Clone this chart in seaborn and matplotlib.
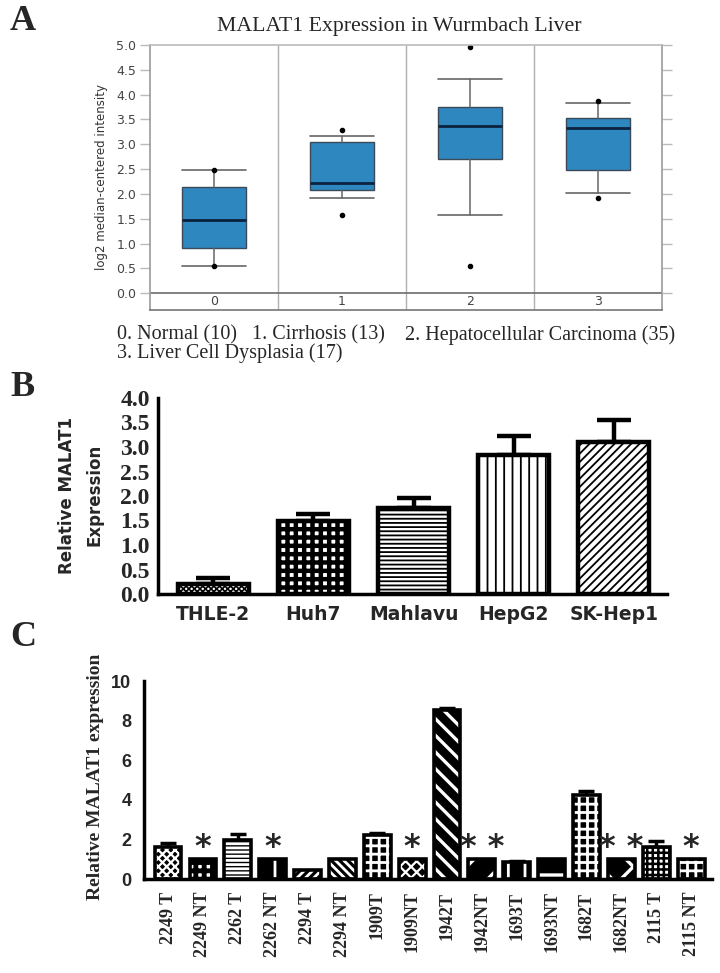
import numpy as np
import pandas as pd
import matplotlib
matplotlib.use("Agg")
import matplotlib.pyplot as plt
import seaborn as sns

# ---------------- data ----------------
# A: Oncomine box summary, MALAT1 in Wurmbach liver
groups_a = ["0", "1", "2", "3"]
whislo_a = [0.54, 1.91, 1.58, 2.02]
q1_a = [0.91, 2.08, 2.70, 2.49]
med_a = [1.47, 2.22, 3.36, 3.32]
q3_a = [2.13, 3.04, 3.75, 3.53]
whishi_a = [2.48, 3.17, 4.31, 3.83]
fliers_a = [[0.54, 2.48], [1.58, 3.28], [0.54, 4.96], [1.91, 3.88]]
caption_a = ["0. Normal (10)", "1. Cirrhosis (13)",
             "2. Hepatocellular Carcinoma (35)", "3. Liver Cell Dysplasia (17)"]

# B: cell lines
cells_b = ["THLE-2", "Huh7", "Mahlavu", "HepG2", "SK-Hep1"]
expr_b = [0.21, 1.48, 1.75, 2.84, 3.10]
err_b = [0.11, 0.15, 0.21, 0.39, 0.46]

# C: patient tissues
samples_c = ["2249 T", "2249 NT", "2262 T", "2262 NT", "2294 T", "2294 NT",
             "1909T", "1909NT", "1942T", "1942NT", "1693T", "1693NT",
             "1682T", "1682NT", "2115 T", "2115 NT"]
expr_c = [1.64, 1.0, 1.98, 1.0, 0.45, 1.0, 2.22, 1.0, 8.55, 1.0, 0.84, 1.0,
          4.24, 1.0, 1.62, 1.0]
err_c = [0.20, 0, 0.30, 0, 0, 0, 0.12, 0, 0.07, 0, 0.05, 0, 0.22, 0, 0.30, 0]
stars_c = ["", "*", "", "*", "", "", "", "*", "", "* *", "", "", "", "* *", "", "*"]

# ---------------- style ----------------
sns.set_style("white")
plt.rcParams["font.family"] = ["DejaVu Sans"]
SERIF = "Liberation Serif"


def hatch_lw(patch, lw):
    # per-patch hatch width where matplotlib supports it
    if hasattr(patch, "set_hatch_linewidth"):
        patch.set_hatch_linewidth(lw)


fig = plt.figure(figsize=(7.2, 9.73), dpi=100)

# ================= panel A =================
ax_a = fig.add_axes([150 / 720, 1 - 310 / 973, 512 / 720, 265 / 973])
stats = []
for i in range(len(groups_a)):
    stats.append(dict(whislo=whislo_a[i], q1=q1_a[i], med=med_a[i], q3=q3_a[i],
                      whishi=whishi_a[i], fliers=fliers_a[i], label=groups_a[i]))
ax_a.bxp(stats, positions=range(len(groups_a)), widths=0.5, capwidths=0.5,
         patch_artist=True, showfliers=True,
         boxprops=dict(facecolor="#2f87bf", edgecolor="#3a4a5a", linewidth=1),
         medianprops=dict(color="#0b2340", linewidth=2),
         whiskerprops=dict(color="#666666", linewidth=1.1),
         capprops=dict(color="#666666", linewidth=1.2),
         flierprops=dict(marker="o", markersize=3, markerfacecolor="black",
                         markeredgecolor="black"))
ax_a.set_xlim(-0.5, 3.5)
ax_a.set_ylim(-0.34, 5.0)
ax_a.set_yticks(np.arange(0, 5.01, 0.5))
ax_a.set_yticklabels([f"{v:.1f}" for v in np.arange(0, 5.01, 0.5)],
                     fontsize=9, color="#444444")
ax_a.set_xticks([])
for i, g in enumerate(groups_a):
    ax_a.text(i, -0.17, g, ha="center", va="center", fontsize=9, color="#444444")
for sep in [0.5, 1.5, 2.5]:
    ax_a.axvline(sep, color="#b0b0b0", linewidth=1, zorder=0)
ax_a.axhline(0, color="#777777", linewidth=1.3, zorder=0)
ax_a.tick_params(axis="y", left=True, right=True, labelright=False,
                 direction="out", length=7, width=1, color="#bbbbbb", pad=3)
for side, col in [("left", "#999999"), ("right", "#999999"),
                  ("top", "#bbbbbb"), ("bottom", "#777777")]:
    ax_a.spines[side].set_color(col)
    ax_a.spines[side].set_linewidth(1.2)
ax_a.set_ylabel("log2 median-centered intensity", fontsize=8.5, color="#333333",
                labelpad=6)

fig.text(0.554, 1 - 27 / 973, "MALAT1 Expression in Wurmbach Liver",
         family=SERIF, fontsize=15.7, ha="center", va="center")
cap_pos = [(117, 335), (252, 335), (405, 335), (117, 353)]
for (px, py), txt in zip(cap_pos, caption_a):
    fig.text(px / 720, 1 - py / 973, txt, family=SERIF, fontsize=14.5,
             ha="left", va="center")

# ================= panel B =================
ax_b = fig.add_axes([158 / 720, 1 - 594 / 973, 509 / 720, 196 / 973])
df_b = pd.DataFrame({"cell": cells_b, "expr": expr_b})
sns.barplot(data=df_b, x="cell", y="expr", order=cells_b, color="white",
            saturation=1, edgecolor="black", linewidth=3.2, width=0.71,
            errorbar=None, ax=ax_b, zorder=3)
hatch_b = ["xxxxxx", "++", "----", "||", "////"]
hlw_b = [1.2, 3.2, 1.3, 1.3, 1.3]
for patch, h, lw in zip(ax_b.patches, hatch_b, hlw_b):
    patch.set_hatch(h)
    hatch_lw(patch, lw)
ax_b.errorbar(np.arange(len(cells_b)), expr_b,
              yerr=[np.zeros(len(err_b)), err_b], fmt="none", ecolor="black",
              elinewidth=3.2, capsize=12, capthick=3.2, zorder=2)
ax_b.set_xlim(-0.55, 4.53)
ax_b.set_ylim(0, 4.0)
ax_b.set_yticks(np.arange(0, 4.01, 0.5))
ax_b.set_yticklabels([f"{v:.1f}" for v in np.arange(0, 4.01, 0.5)],
                     family=SERIF, fontweight="bold", fontsize=17)
ax_b.set_xticks(range(len(cells_b)))
ax_b.set_xticklabels(cells_b, fontweight="bold", fontsize=13.5)
ax_b.tick_params(axis="y", direction="out", length=5, width=2.5, pad=1)
ax_b.tick_params(axis="x", length=0, pad=8)
sns.despine(ax=ax_b)
for side in ["left", "bottom"]:
    ax_b.spines[side].set_linewidth(2.5)
    ax_b.spines[side].set_color("black")
ax_b.set_xlabel("")
ax_b.set_ylabel("")
fig.text(81 / 720, 1 - 495 / 973, "Relative MALAT1\nExpression", rotation=90,
         fontweight="bold", fontsize=12, ha="center", va="center",
         multialignment="center", linespacing=1.7)

# ================= panel C =================
ax_c = fig.add_axes([144 / 720, 1 - 879 / 973, 568 / 720, 198 / 973])
df_c = pd.DataFrame({"sample": samples_c, "expr": expr_c})
sns.barplot(data=df_c, x="sample", y="expr", order=samples_c, color="black",
            saturation=1, width=0.77, errorbar=None, ax=ax_c, zorder=2)
hatch_c = ["xxxx", "++", "----", "|", "////", "\\\\\\\\", "++", "xxx",
           "\\\\", "/", "|", "-", "++", "x", "+++", "++"]
face_c = ["black", "white"] + ["black"] * 12 + ["white", "black"]
hcol_c = ["white", "black"] + ["white"] * 12 + ["black", "white"]
hlw_c = [1.6, 3.5, 2, 2, 2, 2, 2, 1.6, 2.4, 2.4, 2, 2.4, 2, 2.4, 1.8, 2]
for patch, h, fc, hc, lw in zip(ax_c.patches, hatch_c, face_c, hcol_c, hlw_c):
    patch.set_facecolor(fc)
    patch.set_edgecolor(hc)
    patch.set_hatch(h)
    patch.set_linewidth(0)
    hatch_lw(patch, lw)
sns.barplot(data=df_c, x="sample", y="expr", order=samples_c, color="black",
            fill=False, saturation=1, width=0.77, linewidth=2.6,
            errorbar=None, ax=ax_c, zorder=3)
err_c = np.array(err_c)
has_err = err_c > 0
xs = np.arange(len(samples_c))
ax_c.errorbar(xs[has_err], np.array(expr_c)[has_err],
              yerr=[np.zeros(has_err.sum()), err_c[has_err]], fmt="none",
              ecolor="black", elinewidth=2.5, capsize=6, capthick=2.5, zorder=1)
for x, s, v in zip(xs, stars_c, expr_c):
    if s:
        ax_c.text(x, v + 0.6, s, ha="center", va="center", fontsize=23,
                  fontweight="bold")
ax_c.set_xlim(-0.69, 15.6)
ax_c.set_ylim(0, 10)
ax_c.set_yticks([0, 2, 4, 6, 8, 10])
ax_c.set_yticklabels(["0", "2", "4", "6", "8", "10"], family="Liberation Sans",
                     fontweight="bold", fontsize=13)
ax_c.set_xticks(xs)
ax_c.set_xticklabels(samples_c, family=SERIF, fontweight="bold", fontsize=13,
                     rotation=90)
ax_c.tick_params(axis="both", direction="out", length=6, width=2.5, pad=3)
sns.despine(ax=ax_c)
for side in ["left", "bottom"]:
    ax_c.spines[side].set_linewidth(2.5)
    ax_c.spines[side].set_color("black")
ax_c.set_xlabel("")
ax_c.set_ylabel("")
fig.text(95 / 720, 1 - 777 / 973, "Relative MALAT1 expression", rotation=90,
         family=SERIF, fontweight="bold", fontsize=14, ha="center", va="center")

# panel letters
for letter, py in [("A", 22), ("B", 387), ("C", 637)]:
    fig.text(10 / 720, 1 - py / 973, letter, family=SERIF, fontweight="bold",
             fontsize=26, ha="left", va="center")

fig.savefig("out.png", dpi=100)
